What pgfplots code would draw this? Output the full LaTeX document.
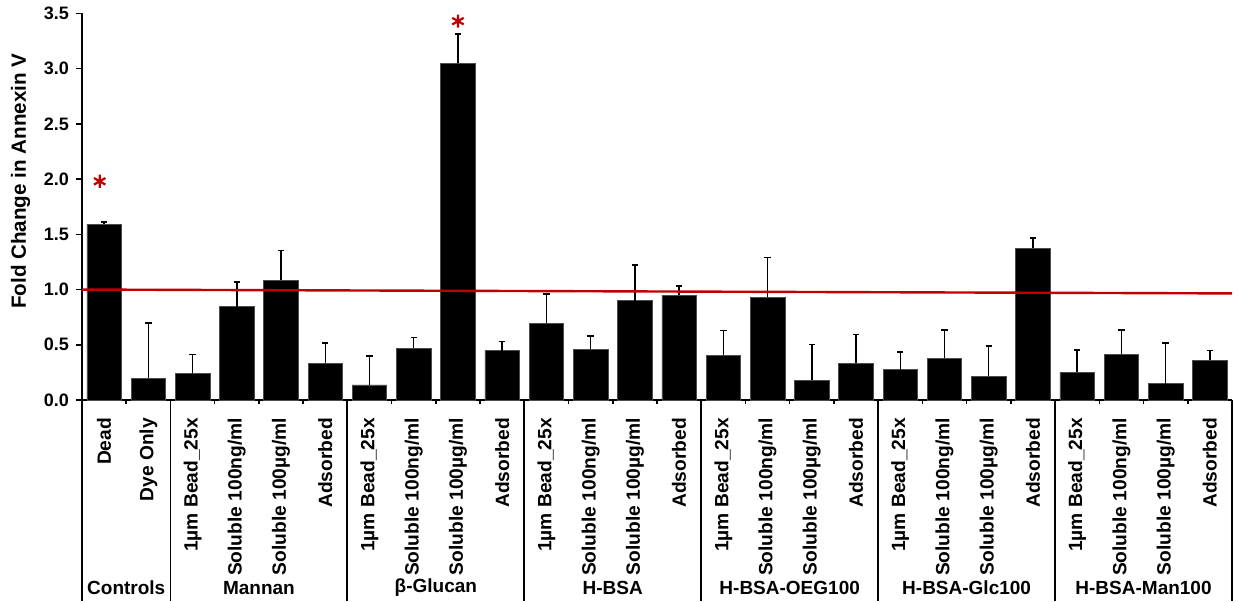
\documentclass[border=0pt]{standalone}
\usepackage{pgfplots}
\pgfplotsset{compat=1.18}
\usepackage{pgfplotstable}
\usepackage{fontspec}
\setmainfont{Liberation Sans}
\definecolor{refred}{HTML}{C00000}
\pgfplotstableread{
x y e
0 1.590 0.020
1 0.197 0.500
2 0.242 0.170
3 0.846 0.220
4 1.085 0.267
5 0.333 0.181
6 0.136 0.263
7 0.469 0.097
8 3.047 0.265
9 0.446 0.082
10 0.694 0.266
11 0.459 0.120
12 0.899 0.325
13 0.950 0.084
14 0.407 0.224
15 0.932 0.359
16 0.181 0.320
17 0.332 0.260
18 0.274 0.160
19 0.377 0.256
20 0.217 0.274
21 1.373 0.096
22 0.253 0.199
23 0.416 0.217
24 0.148 0.368
25 0.362 0.088
}\data
\begin{document}
\begin{tikzpicture}
\begin{axis}[
  name=ax,
  scale only axis,
  width=575pt, height=193.3pt,
  xmin=-0.5, xmax=25.5, ymin=0, ymax=3.5,
  axis lines*=left,
  axis line style={line width=0.9pt},
  ybar, bar width=0.78,
  ytick={0,0.5,...,3.5},
  /pgf/number format/assume math mode=true,
  yticklabel style={/pgf/number format/fixed,/pgf/number format/fixed zerofill,/pgf/number format/precision=1,font=\bfseries\fontsize{9}{10}\selectfont},
  y tick style={line width=0.8pt, black},
  tick align=outside,
  major tick length=3pt,
  xtick={0,...,25},
  x tick style={draw=none},
  xticklabels={Dead,Dye Only,1µm Bead\_25x,Soluble 100ng/ml,Soluble 100µg/ml,Adsorbed,1µm Bead\_25x,Soluble 100ng/ml,Soluble 100µg/ml,Adsorbed,1µm Bead\_25x,Soluble 100ng/ml,Soluble 100µg/ml,Adsorbed,1µm Bead\_25x,Soluble 100ng/ml,Soluble 100µg/ml,Adsorbed,1µm Bead\_25x,Soluble 100ng/ml,Soluble 100µg/ml,Adsorbed,1µm Bead\_25x,Soluble 100ng/ml,Soluble 100µg/ml,Adsorbed},
  xticklabel style={rotate=90, anchor=east, font=\bfseries\fontsize{9.6}{11}\selectfont, inner xsep=0pt, inner ysep=0pt, xshift=0pt, outer xsep=6pt},
  minor xtick={-0.5,0.5,...,25.5},
  minor x tick style={draw=black, line width=0.8pt},
  minor tick length=2pt,
  ylabel={Fold Change in Annexin V},
  ylabel style={font=\bfseries\fontsize{10.3}{12}\selectfont, at={(ticklabel cs:0.566)}},
  clip=false,
]
\addplot[fill=black, draw=black!70, line width=0.3pt,
  error bars/.cd, y dir=plus, y explicit,
  error bar style={line width=0.7pt, black},
  error mark options={rotate=90, line width=0.8pt, black, mark size=1.6pt}]
  table[x=x, y=y, y error=e] {\data};
\addplot[sharp plot, refred, line width=1.2pt, forget plot] coordinates {(-0.5,1.0) (25.5,0.965)};
\addplot[sharp plot, only marks, mark=asterisk, refred, mark size=3.3pt, mark options={line width=1.1pt}] coordinates {(-0.1,1.98) (8,3.43)};
\pgfplotsinvokeforeach{-0.5,1.5,5.5,9.5,13.5,17.5,21.5,25.5}{
  \draw[black, line width=0.9pt] (axis cs:#1,0) -- ([yshift=-100.5pt]axis cs:#1,0);
}
\node[font=\bfseries\fontsize{9.5}{11}\selectfont] at ([yshift=-94pt]axis cs:0.5,0) {Controls};
\node[font=\bfseries\fontsize{9.5}{11}\selectfont] at ([yshift=-94pt]axis cs:3.5,0) {Mannan};
\node[font=\bfseries\fontsize{9.5}{11}\selectfont] at ([yshift=-94pt]axis cs:7.5,0) {β-Glucan};
\node[font=\bfseries\fontsize{9.5}{11}\selectfont] at ([yshift=-94pt]axis cs:11.5,0) {H-BSA};
\node[font=\bfseries\fontsize{9.5}{11}\selectfont] at ([yshift=-94pt]axis cs:15.5,0) {H-BSA-OEG100};
\node[font=\bfseries\fontsize{9.5}{11}\selectfont] at ([yshift=-94pt]axis cs:19.5,0) {H-BSA-Glc100};
\node[font=\bfseries\fontsize{9.5}{11}\selectfont] at ([yshift=-94pt]axis cs:23.5,0) {H-BSA-Man100};
\end{axis}
\pgfresetboundingbox
\path (ax.south west) ++(-41pt,-100.5pt) rectangle ++(619.5pt,300.5pt);
\end{tikzpicture}
\end{document}
